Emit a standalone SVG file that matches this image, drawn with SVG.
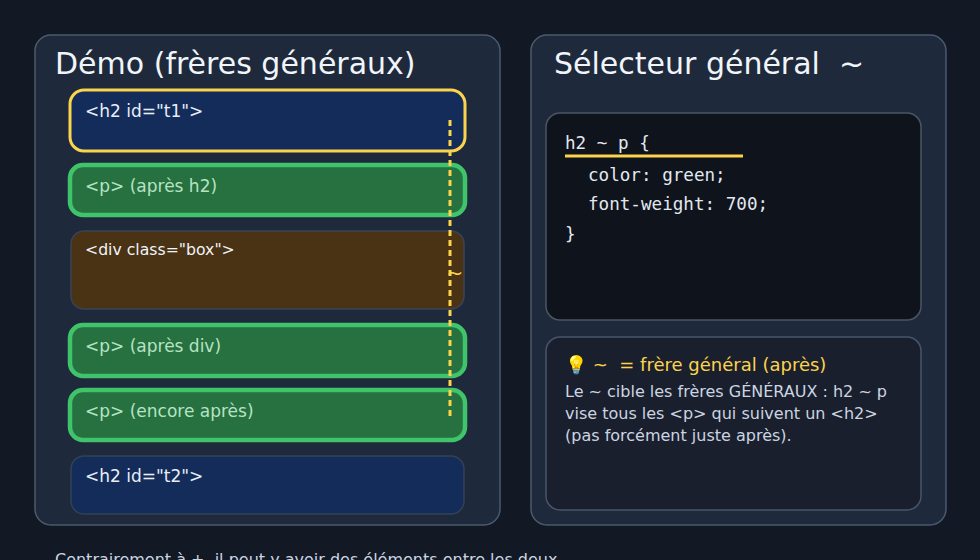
<svg xmlns="http://www.w3.org/2000/svg" width="980" height="560" viewBox="0 0 980 560">
<style>
.panel{fill:#1e293b;stroke:#4b5a70;stroke-width:1.5}
.title{font-family:"DejaVu Sans",sans-serif;font-size:30px;fill:#f1f5f9}
.lbl{font-family:"DejaVu Sans",sans-serif;font-size:17px}
.h2box{fill:#132c5a;stroke:#334155;stroke-width:1.5}
.pbox{fill:#26713f;stroke:#3fc36b;stroke-width:4.5}
.ptxt{fill:#b6e3c4}
.code{font-family:"DejaVu Sans Mono",monospace;font-size:17.6px;fill:#e2e8f0}
.body{font-family:"DejaVu Sans",sans-serif;font-size:16px;fill:#cbd5e1}
</style>
<rect width="980" height="560" fill="#121925"/>
<g id="panel-demo">
<rect class="panel" x="35" y="35" width="465" height="490" rx="16"/>
<text class="title" x="55" y="74">Démo (frères généraux)</text>
</g>
<g id="panel-selector">
<rect class="panel" x="531" y="35" width="415" height="490" rx="16"/>
<text class="title" x="554" y="74" xml:space="preserve">Sélecteur général  ~</text>
</g>
<g id="h2-t1">
<rect x="70" y="90" width="395" height="61" rx="14" fill="#132c5a" stroke="#fcd34d" stroke-width="3"/>
<text class="lbl" x="85" y="117" fill="#e8eef8">&lt;h2 id="t1"&gt;</text>
</g>
<g id="p-apres-h2">
<rect class="pbox" x="70" y="165" width="395" height="50" rx="13"/>
<text class="lbl ptxt" x="85" y="192">&lt;p&gt; (après h2)</text>
</g>
<g id="div-box">
<rect x="71" y="231" width="393" height="78" rx="13" fill="#4a3215" stroke="#3b4456" stroke-width="1.5"/>
<text class="lbl" x="85" y="255" fill="#f1f5f9" style="font-size:15.7px">&lt;div class="box"&gt;</text>
</g>
<g id="p-apres-div">
<rect class="pbox" x="70" y="325" width="395" height="51" rx="13"/>
<text class="lbl ptxt" x="85" y="352">&lt;p&gt; (après div)</text>
</g>
<g id="p-encore-apres">
<rect class="pbox" x="70" y="390" width="395" height="50" rx="13"/>
<text class="lbl ptxt" x="85" y="417">&lt;p&gt; (encore après)</text>
</g>
<g id="h2-t2">
<rect class="h2box" x="71" y="456" width="393" height="58" rx="13"/>
<text class="lbl" x="85" y="482" fill="#e8eef8">&lt;h2 id="t2"&gt;</text>
</g>
<g id="connectors">
<line x1="450" y1="120" x2="450" y2="416" stroke="#fcd34d" stroke-width="3" stroke-dasharray="6 4"/>
<text x="455" y="280" text-anchor="middle" font-family="DejaVu Sans, sans-serif" font-size="20" fill="#fcd34d">~</text>
</g>
<g id="code-box">
<rect x="546" y="113" width="375" height="207" rx="14" fill="#0f131c" stroke="#4b5563" stroke-width="1.5"/>
<text class="code" x="565" y="149">h2 ~ p {</text>
<line x1="565" y1="156" x2="743" y2="156" stroke="#fcd34d" stroke-width="3"/>
<text class="code" x="588" y="181">color: green;</text>
<text class="code" x="588" y="210">font-weight: 700;</text>
<text class="code" x="565" y="240">}</text>
</g>
<g id="info-box">
<rect x="546" y="337" width="375" height="173" rx="14" fill="#1a1f2e" stroke="#475569" stroke-width="1.5"/>
<text x="565" y="371" font-family="DejaVu Sans, sans-serif" font-size="18" fill="#fcd34d" xml:space="preserve">💡 ~  = frère général (après)</text>
<text class="body" x="565" y="397">Le ~ cible les frères GÉNÉRAUX : h2 ~ p</text>
<text class="body" x="565" y="419">vise tous les &lt;p&gt; qui suivent un &lt;h2&gt;</text>
<text class="body" x="565" y="441">(pas forcément juste après).</text>
</g>
<text class="body" x="55" y="565">Contrairement à +, il peut y avoir des éléments entre les deux.</text>
</svg>
